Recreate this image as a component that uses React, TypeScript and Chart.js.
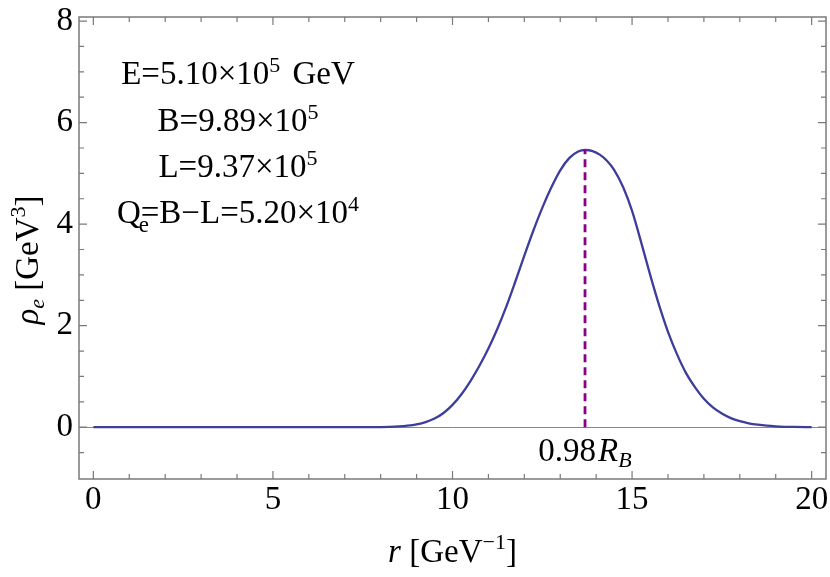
import React, { useEffect, useRef } from "react";
import { Chart, registerables } from "chart.js";

Chart.register(...registerables);

// ---- data ----
const R_VALUES = [0, 1, 2, 3, 4, 5, 6, 7, 7.5, 8, 8.25, 8.5, 8.75, 9, 9.25, 9.5, 9.75, 10, 10.25, 10.5, 10.75, 11, 11.25, 11.5, 11.75, 12, 12.25, 12.5, 12.75, 13, 13.25, 13.5, 13.69, 13.9, 14.1, 14.3, 14.5, 14.75, 15, 15.25, 15.5, 15.75, 16, 16.25, 16.5, 16.75, 17, 17.25, 17.5, 17.75, 18, 18.25, 18.5, 18.75, 19, 19.5, 20];
const RHO_VALUES = [0, 0, 0, 0, 0, 0, 0, 0, 0.0005, 0.003, 0.007, 0.015, 0.03, 0.056, 0.1, 0.17, 0.28, 0.44, 0.65, 0.91, 1.21, 1.55, 1.94, 2.38, 2.87, 3.38, 3.87, 4.32, 4.72, 5.06, 5.3, 5.43, 5.46, 5.44, 5.37, 5.25, 5.07, 4.73, 4.26, 3.65, 3.01, 2.41, 1.88, 1.44, 1.07, 0.79, 0.56, 0.39, 0.27, 0.18, 0.12, 0.078, 0.05, 0.03, 0.018, 0.005, 0.001];
const PEAK_R = 13.69;
const PEAK_RHO = 5.46;
const PEAK_LABEL = "0.98";
const X_TICKS = [0, 5, 10, 15, 20];
const X_MINOR = [1, 2, 3, 4, 6, 7, 8, 9, 11, 12, 13, 14, 16, 17, 18, 19];
const Y_TICKS = [0, 2, 4, 6, 8];
const Y_MINOR = [-0.5, 0.5, 1, 1.5, 2.5, 3, 3.5, 4.5, 5, 5.5, 6.5, 7, 7.5];
const INFO_LINES = [
  { base: "E=5.10×10", sup: "5", tail: " GeV" },
  { base: "B=9.89×10", sup: "5", tail: "" },
  { base: "L=9.37×10", sup: "5", tail: "" },
];
const Q_LINE = { base: "=B−L=5.20×10", sup: "4" };

const FONT = "'Liberation Serif', 'Times New Roman', serif";
const CURVE_COLOR = "#3D3D9C";
const DASH_COLOR = "#880088";
const FRAME_COLOR = "#7a7a7a";
const FS = 33;
const FS_SMALL = 22;

type Part = { t: string; size: number; italic?: boolean; dy?: number; noAdvance?: boolean; dx?: number };

function setFont(ctx: CanvasRenderingContext2D, p: Part) {
  ctx.font = `${p.italic ? "italic " : ""}${p.size}px ${FONT}`;
}

function drawRich(ctx: CanvasRenderingContext2D, parts: Part[], x: number, y: number) {
  let total = 0;
  for (const p of parts) {
    setFont(ctx, p);
    if (!p.noAdvance) total += ctx.measureText(p.t).width + (p.dx || 0);
  }
  let cx = x - total / 2;
  ctx.textBaseline = "alphabetic";
  ctx.textAlign = "left";
  ctx.fillStyle = "#000";
  for (const p of parts) {
    setFont(ctx, p);
    ctx.fillText(p.t, cx + (p.dx || 0), y + (p.dy || 0));
    if (!p.noAdvance) cx += ctx.measureText(p.t).width + (p.dx || 0);
  }
}

const framePlugin = {
  id: "framePlugin",
  beforeDatasetsDraw(chart: any) {
    const { ctx, chartArea } = chart;
    const ys = chart.scales.y;
    ctx.save();
    ctx.strokeStyle = "#888";
    ctx.lineWidth = 1;
    const y0 = Math.round(ys.getPixelForValue(0)) + 0.5;
    ctx.beginPath();
    ctx.moveTo(chartArea.left, y0);
    ctx.lineTo(chartArea.right, y0);
    ctx.stroke();
    ctx.restore();
  },
  afterDraw(chart: any) {
    const { ctx, chartArea } = chart;
    const xs = chart.scales.x;
    const ys = chart.scales.y;
    const { left, right, top, bottom } = chartArea;
    ctx.save();
    ctx.strokeStyle = FRAME_COLOR;
    ctx.lineWidth = 1.5;
    ctx.strokeRect(left, top, right - left, bottom - top);
    ctx.lineWidth = 1.2;
    const tick = (vals: number[], len: number) => {
      for (const v of vals) {
        const px = xs.getPixelForValue(v);
        ctx.beginPath();
        ctx.moveTo(px, bottom);
        ctx.lineTo(px, bottom - len);
        ctx.moveTo(px, top);
        ctx.lineTo(px, top + len);
        ctx.stroke();
      }
    };
    const ytick = (vals: number[], len: number) => {
      for (const v of vals) {
        const py = ys.getPixelForValue(v);
        ctx.beginPath();
        ctx.moveTo(left, py);
        ctx.lineTo(left + len, py);
        ctx.moveTo(right, py);
        ctx.lineTo(right - len, py);
        ctx.stroke();
      }
    };
    tick(X_TICKS, 8);
    tick(X_MINOR, 5);
    ytick(Y_TICKS, 8);
    ytick(Y_MINOR, 5);

    // info text block
    const cx = 238;
    const lineYs = [84, 131, 177, 223];
    INFO_LINES.forEach((ln, i) => {
      const parts: Part[] = [
        { t: ln.base, size: FS },
        { t: ln.sup, size: FS_SMALL, dy: -12 },
      ];
      if (ln.tail) parts.push({ t: ln.tail, size: FS, dx: 4 });
      drawRich(ctx, parts, cx, lineYs[i]);
    });
    drawRich(
      ctx,
      [
        { t: "Q", size: FS },
        { t: "e", size: 23, dy: 9, noAdvance: true, dx: -2 },
        { t: Q_LINE.base, size: FS },
        { t: Q_LINE.sup, size: FS_SMALL, dy: -12 },
      ],
      cx,
      lineYs[3]
    );

    // peak label
    const px = xs.getPixelForValue(PEAK_R);
    drawRich(
      ctx,
      [
        { t: PEAK_LABEL, size: FS },
        { t: "R", size: FS, italic: true, dx: 2 },
        { t: "B", size: FS_SMALL, italic: true, dy: 6 },
      ],
      px,
      461
    );

    // x title
    drawRich(
      ctx,
      [
        { t: "r", size: FS, italic: true },
        { t: " [GeV", size: FS },
        { t: "−1", size: FS_SMALL, dy: -13 },
        { t: "]", size: FS },
      ],
      (left + right) / 2,
      562
    );

    // y title
    ctx.save();
    ctx.translate(38, 260);
    ctx.rotate(-Math.PI / 2);
    drawRich(
      ctx,
      [
        { t: "ρ", size: FS, italic: true },
        { t: "e", size: FS_SMALL, italic: true, dy: 6 },
        { t: " [GeV", size: FS },
        { t: "3", size: FS_SMALL, dy: -13 },
        { t: "]", size: FS },
      ],
      0,
      0
    );
    ctx.restore();
    ctx.restore();
  },
};

export default function App() {
  const ref = useRef<HTMLCanvasElement | null>(null);
  useEffect(() => {
    if (!ref.current) return;
    const chart = new Chart(ref.current, {
      type: "line",
      data: {
        datasets: [
          {
            data: R_VALUES.map((r, i) => ({ x: r, y: RHO_VALUES[i] })),
            borderColor: CURVE_COLOR,
            borderWidth: 2.3,
            pointRadius: 0,
            cubicInterpolationMode: "monotone",
            fill: false,
            order: 1,
          },
          {
            data: [
              { x: PEAK_R, y: 0 },
              { x: PEAK_R, y: PEAK_RHO },
            ],
            borderColor: DASH_COLOR,
            borderDash: [8, 5],
            borderWidth: 2.8,
            pointRadius: 0,
            fill: false,
            order: 0,
          },
        ],
      },
      options: {
        responsive: false,
        animation: false,
        events: [],
        layout: { padding: { top: 17, right: 4, left: 0, bottom: 0 } },
        plugins: { legend: { display: false }, tooltip: { enabled: false } },
        scales: {
          x: {
            type: "linear",
            min: -0.4,
            max: 20.4,
            grid: { display: false, drawTicks: false, tickLength: 0 },
            border: { display: false },
            ticks: {
              font: { family: FONT, size: FS },
              color: "#000",
              padding: 2,
              maxRotation: 0,
              autoSkip: false,
            },
            afterBuildTicks: (s: any) => {
              s.ticks = X_TICKS.map((v) => ({ value: v }));
            },
            afterFit: (s: any) => {
              s.height = 98;
              s.paddingLeft = 0;
              s.paddingRight = 0;
            },
          },
          y: {
            type: "linear",
            min: -1.02,
            max: 8.08,
            grid: { display: false, drawTicks: false, tickLength: 0 },
            border: { display: false },
            ticks: {
              font: { family: FONT, size: FS },
              color: "#000",
              padding: 6,
              autoSkip: false,
            },
            afterBuildTicks: (s: any) => {
              s.ticks = Y_TICKS.map((v) => ({ value: v }));
            },
            afterFit: (s: any) => {
              s.width = 79;
              s.paddingTop = 0;
              s.paddingBottom = 0;
            },
          },
        },
      },
      plugins: [framePlugin],
    } as any);
    return () => chart.destroy();
  }, []);
  return (
    <div style={{ position: "fixed", left: 0, top: 0, width: 830, height: 577, background: "#fff" }}>
      <canvas ref={ref} width={830} height={577} style={{ display: "block" }} />
    </div>
  );
}
